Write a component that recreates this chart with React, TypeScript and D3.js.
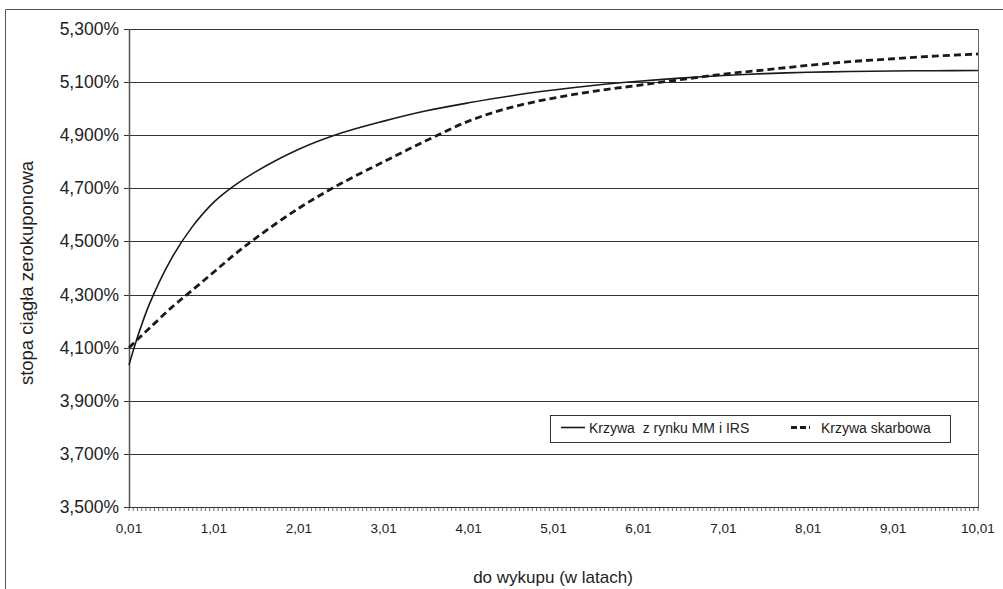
import React from "react";
import * as d3 from "d3";

const maturities = [0.01, 0.1, 0.25, 0.5, 0.75, 1.01, 1.25, 1.5, 2.01, 2.5, 3.01, 3.5, 4.01, 4.5, 5.01, 5.5, 6.01, 6.5, 7.01, 7.5, 8.01, 8.5, 9.01, 9.5, 10.01];
const mmIrs = [4.035, 4.13, 4.264, 4.43, 4.553, 4.648, 4.71, 4.762, 4.847, 4.907, 4.953, 4.991, 5.022, 5.048, 5.07, 5.088, 5.103, 5.115, 5.125, 5.132, 5.137, 5.14, 5.142, 5.143, 5.144];
const treasury = [4.1, 4.128, 4.173, 4.248, 4.315, 4.385, 4.45, 4.512, 4.625, 4.717, 4.8, 4.878, 4.953, 5.004, 5.04, 5.066, 5.088, 5.109, 5.13, 5.146, 5.163, 5.177, 5.188, 5.198, 5.206];
const yTicks = [3.5, 3.7, 3.9, 4.1, 4.3, 4.5, 4.7, 4.9, 5.1, 5.3];
const xLabelTicks = [0.01, 1.01, 2.01, 3.01, 4.01, 5.01, 6.01, 7.01, 8.01, 9.01, 10.01];
const xMinorStep = 0.05;
const seriesNames = ["Krzywa  z rynku MM i IRS", "Krzywa skarbowa"];
const xTitle = "do wykupu (w latach)";
const yTitle = "stopa ciągła zerokuponowa";

export default function App() {
  const W = 1003, H = 589;
  const left = 129, right = 978, top = 29, bottom = 507;
  const x = d3.scaleLinear().domain([0.01, 10.01]).range([left, right]);
  const y = d3.scaleLinear().domain([3.5, 5.3]).range([bottom, top]);
  const minor = d3.range(0, 201).map((i) => 0.01 + i * xMinorStep);
  const line = d3
    .line<number>()
    .x((_, i) => x(maturities[i]))
    .y((d) => y(d))
    .curve(d3.curveCatmullRom.alpha(0.5));
  const fmtY = (v: number) => v.toFixed(3).replace(".", ",") + "%";
  const fmtX = (v: number) => v.toFixed(2).replace(".", ",");
  const font = "'Liberation Sans', Arial, sans-serif";
  const txt = "#222";

  return (
    <svg
      width={W}
      height={H}
      style={{ position: "absolute", left: 0, top: 0, background: "#fff" }}
      fontFamily={font}
    >
      <rect x={0} y={0} width={W} height={H} fill="#fff" />
      {/* outer frame */}
      <line x1={5.5} y1={9.5} x2={W} y2={9.5} stroke="#555" strokeWidth={1} />
      <line x1={5.5} y1={9.5} x2={5.5} y2={H} stroke="#555" strokeWidth={1} />

      {/* gridlines */}
      {yTicks.map((t) => (
        <g key={t}>
          <line x1={left - 5} x2={right} y1={Math.round(y(t)) + 0.5} y2={Math.round(y(t)) + 0.5} stroke="#333" strokeWidth={1} />
          <text x={119} y={y(t) + 6} textAnchor="end" fontSize={17.5} fill={txt}>
            {fmtY(t)}
          </text>
        </g>
      ))}

      {/* plot borders */}
      <line x1={right + 0.5} x2={right + 0.5} y1={top} y2={bottom} stroke="#666" strokeWidth={1} />
      <line x1={left + 0.5} x2={left + 0.5} y1={top} y2={bottom + 1} stroke="#555" strokeWidth={1.5} />
      <line x1={left} x2={right + 1} y1={bottom + 0.5} y2={bottom + 0.5} stroke="#333" strokeWidth={1.2} />

      {/* x minor ticks */}
      {minor.map((t, i) => (
        <line key={i} x1={x(t)} x2={x(t)} y1={bottom} y2={bottom + 4} stroke="#444" strokeWidth={0.8} />
      ))}
      {xLabelTicks.map((t) => (
        <text key={t} x={x(t)} y={533} textAnchor="middle" fontSize={13.5} fill={txt}>
          {fmtX(t)}
        </text>
      ))}

      {/* series */}
      <path d={line(mmIrs) || ""} fill="none" stroke="#1a1a1a" strokeWidth={1.6} />
      <path d={line(treasury) || ""} fill="none" stroke="#1a1a1a" strokeWidth={2.8} strokeDasharray="7,4" />

      {/* legend */}
      <rect x={550.5} y={415.5} width={400} height={27} fill="#fff" stroke="#333" strokeWidth={1} />
      <line x1={561} x2={585} y1={427.5} y2={427.5} stroke="#1a1a1a" strokeWidth={1.6} />
      <text x={589} y={433} fontSize={14} fill={txt} style={{ whiteSpace: "pre" }}>
        {seriesNames[0]}
      </text>
      <line x1={791} x2={810} y1={427.5} y2={427.5} stroke="#1a1a1a" strokeWidth={2.8} strokeDasharray="6,3" />
      <text x={821} y={433} fontSize={14} fill={txt}>
        {seriesNames[1]}
      </text>

      {/* axis titles */}
      <text x={553} y={583} textAnchor="middle" fontSize={17} fill={txt}>
        {xTitle}
      </text>
      <text
        transform={`translate(33, ${273}) rotate(-90)`}
        textAnchor="middle"
        fontSize={18.5}
        fill={txt}
      >
        {yTitle}
      </text>
    </svg>
  );
}
